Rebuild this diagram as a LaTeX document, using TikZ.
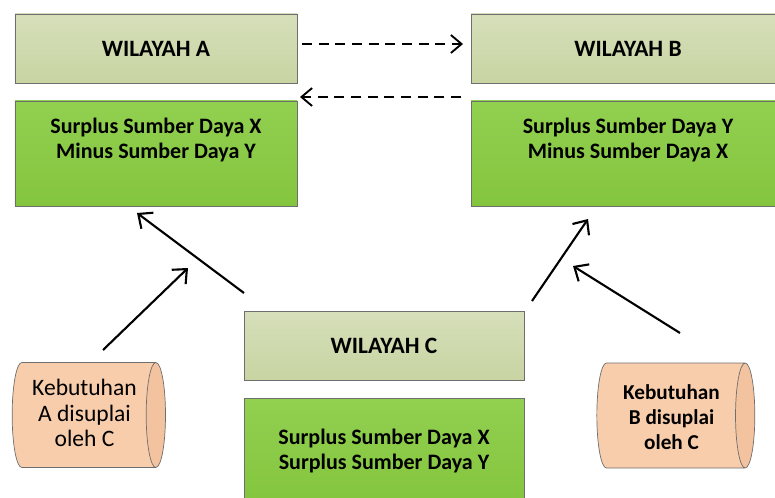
\documentclass[tikz,border=0pt]{standalone}
\usepackage{fontspec}
\setmainfont{Carlito}
\usepackage{tikz}
\usetikzlibrary{shapes.geometric, arrows.meta, shadows}
\definecolor{WilOlive}{RGB}{214,223,186}
\definecolor{WilOliveD}{RGB}{200,212,162}
\definecolor{WilGreen}{RGB}{146,208,80}
\definecolor{WilGreenD}{RGB}{132,197,62}
\definecolor{WilPeach}{RGB}{248,205,172}
\definecolor{WilPeachD}{RGB}{243,194,158}
\definecolor{WilEdge}{RGB}{110,110,110}

\begin{document}
\begin{tikzpicture}[x=0.3mm, y=-0.3mm,
          region/.style={rectangle, draw=WilEdge, line width=0.6pt,
                         top color=WilOlive, bottom color=WilOliveD,
                         minimum width=84.6mm, minimum height=20.7mm,
                         font=\fontsize{20}{24}\selectfont\bfseries,
                         drop shadow={shadow xshift=0.8pt, shadow yshift=-0.8pt, opacity=0.25}},
          stock/.style={rectangle, draw=WilEdge, line width=0.6pt,
                        top color=WilGreen, bottom color=WilGreenD,
                        minimum width=84.6mm, minimum height=31.5mm,
                        drop shadow={shadow xshift=0.8pt, shadow yshift=-0.8pt, opacity=0.25}},
          stocktxt/.style={font=\fontsize{18.8}{21.5}\selectfont\bfseries, align=center},
          need/.style={cylinder, draw=WilEdge, line width=0.6pt, aspect=0.22,
                       cylinder uses custom fill, cylinder body fill=WilPeach,
                       cylinder end fill=WilPeachD,
                       minimum width=31.5mm, minimum height=46mm},
          flow/.style={-{Straight Barb[length=3.4mm, width=6mm, line width=1.8pt]}, line width=1.8pt},
          swap/.style={-{Straight Barb[length=3.2mm, width=5.4mm, line width=1.6pt]}, line width=1.6pt,
                       dash pattern=on 3mm off 2mm}
        ]
        \clip (0,0) rectangle (775,498);

        % Wilayah A
        \node[region] (wa) at (156,48.5) {WILAYAH A};
        \node[stock] (ga) at (156,153.5) {};
        \node[stocktxt, anchor=north] (ta) at (156,114) {Surplus Sumber Daya X\\Minus Sumber Daya Y};

        % Wilayah B
        \node[region, minimum width=94.2mm] (wb) at (628,48.5) {WILAYAH B};
        \node[stock, minimum width=94.2mm] (gb) at (628,153.5) {};
        \node[stocktxt, anchor=north] (tb) at (628,114) {Surplus Sumber Daya Y\\Minus Sumber Daya X};

        % Wilayah C
        \node[region, minimum width=84mm] (wc) at (384,345.5) {WILAYAH C};
        \node[stock, minimum width=84mm] (gc) at (384,450.5) {};
        \node[stocktxt, anchor=north] (tc) at (384,425) {Surplus Sumber Daya X\\Surplus Sumber Daya Y};

        % Kebutuhan
        \node[need] (na) at (82,415) {\rule{0pt}{24mm}};
        \node[font=\fontsize{20.1}{21.5}\selectfont, align=center] (kta) at (84.5,413) {Kebutuhan\\A disuplai\\oleh C};
        \node[need, minimum height=47.4mm] (nb) at (669,415.5) {\rule{0pt}{24mm}};
        \node[font=\fontsize{18.1}{21.5}\selectfont\bfseries, align=center] (ktb) at (671.5,417) {Kebutuhan\\B disuplai\\oleh C};

        % exchange between A and B
        \coordinate (ab1) at (302,44);
        \coordinate (ab2) at (463,44);
        \coordinate (ba1) at (461,97);
        \coordinate (ba2) at (300,97);
        \draw[swap] (ab1) -- (ab2);
        \draw[swap] (ba1) -- (ba2);

        % supply from C
        \foreach \s/\t/\sx/\sy/\tx/\ty in {ca/ga/244/293/137/213, na/ka/103/350/188/268,
                                            cb/gb/532/301/588/219, nb/kb/680/333/573/266} {
          \coordinate (\s-s) at (\sx,\sy);
          \coordinate (\t-t) at (\tx,\ty);
          \draw[flow] (\s-s) -- (\t-t);
        }
      \end{tikzpicture}
\end{document}
